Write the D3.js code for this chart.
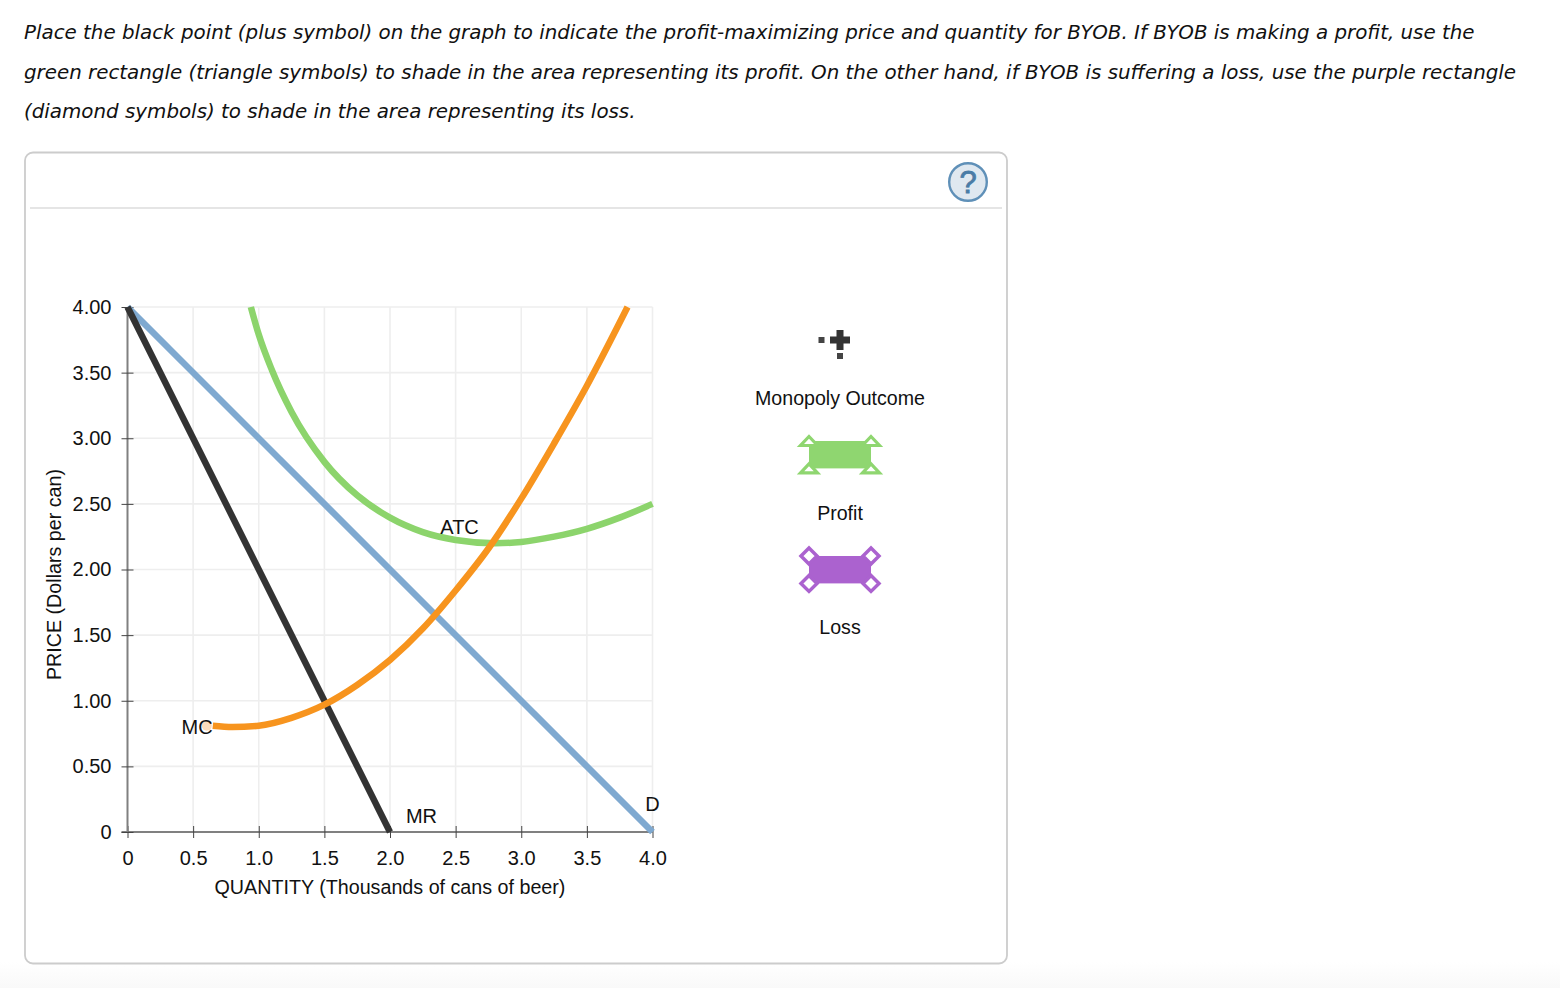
<!DOCTYPE html>
<html>
<head>
<meta charset="utf-8">
<script src="https://cdn.jsdelivr.net/npm/d3@7"></script>
<style>
  html, body { margin: 0; padding: 0; background: #fff; }
  svg { display: block; }
  text { font-family: "Liberation Sans", Arial, sans-serif; fill: #111; }
  .prompt { font-family: "DejaVu Sans", Verdana, sans-serif; font-style: italic; font-size: 19.85px; fill: #111; }
</style>
</head>
<body>
<div id="viz"></div>
<script>
// =====================
// data
// =====================
const promptLines = [
  "Place the black point (plus symbol) on the graph to indicate the profit-maximizing price and quantity for BYOB. If BYOB is making a profit, use the",
  "green rectangle (triangle symbols) to shade in the area representing its profit. On the other hand, if BYOB is suffering a loss, use the purple rectangle",
  "(diamond symbols) to shade in the area representing its loss."
];
const xTicks = [0, 0.5, 1.0, 1.5, 2.0, 2.5, 3.0, 3.5, 4.0];
const yTicks = [0, 0.5, 1.0, 1.5, 2.0, 2.5, 3.0, 3.5, 4.0];

const demand = [[0, 4], [4, 0]];
const mr = [[0, 4], [2, 0]];
const mc = [[0.65, 0.81], [0.8, 0.8], [1.0, 0.81], [1.25, 0.87], [1.5, 0.97], [1.75, 1.12], [2.0, 1.31],
  [2.25, 1.55], [2.5, 1.84], [2.75, 2.16], [3.0, 2.54], [3.25, 2.96], [3.5, 3.40], [3.81, 4.0]];
const atc = [[0.94, 4.0], [1.0, 3.79], [1.1, 3.52], [1.25, 3.20], [1.5, 2.82], [1.75, 2.565], [2.0, 2.395], [2.25, 2.285],
  [2.5, 2.225], [2.8, 2.2], [3.0, 2.21], [3.25, 2.25], [3.5, 2.31], [3.75, 2.395], [4.0, 2.5]];

const curveLabels = [
  {name: "ATC", q: 2.53, p: 2.325},
  {name: "MC", q: 0.53, p: 0.8},
  {name: "MR", q: 2.24, p: 0.12},
  {name: "D", q: 4.0, p: 0.21}
];
const legendNames = ["Monopoly Outcome", "Profit", "Loss"];

// =====================
// set up variables etc.
// =====================
const outerWidth = 1560, outerHeight = 988;
const plot = {left: 127.5, right: 652.5, top: 307, bottom: 832};

const svg = d3.select("#viz").append("svg")
    .attr("width", outerWidth)
    .attr("height", outerHeight);

const x = d3.scaleLinear().domain([0, 4]).range([plot.left, plot.right]);
const y = d3.scaleLinear().domain([0, 4]).range([plot.bottom, plot.top]);

// faint page fade along the bottom edge
const fade = svg.append("defs").append("linearGradient")
    .attr("id", "fade").attr("x1", 0).attr("x2", 0).attr("y1", 0).attr("y2", 1);
fade.append("stop").attr("offset", "0%").attr("stop-color", "#ffffff");
fade.append("stop").attr("offset", "100%").attr("stop-color", "#f9f9f9");
svg.append("rect")
    .attr("x", 0).attr("y", 962)
    .attr("width", outerWidth).attr("height", 26)
    .attr("fill", "url(#fade)");

// question text
svg.selectAll(".prompt")
  .data(promptLines)
  .join("text")
    .attr("class", "prompt")
    .attr("x", 24)
    .attr("y", (d, i) => 39 + i * 39.7)
    .text(d => d);

// panel round the graph
svg.append("rect")
    .attr("x", 25).attr("y", 152.5)
    .attr("width", 982).attr("height", 811)
    .attr("rx", 8)
    .attr("fill", "#fff").attr("stroke", "#ccc").attr("stroke-width", 1.8);

svg.append("line")
    .attr("x1", 30).attr("x2", 1002)
    .attr("y1", 208).attr("y2", 208)
    .attr("stroke", "#ddd").attr("stroke-width", 1.6);

// help button
const help = svg.append("g").attr("transform", "translate(968,182)");
help.append("circle").attr("r", 18.8)
    .attr("fill", "#dfe8f0").attr("stroke", "#5f90b8").attr("stroke-width", 2.4);
help.append("text")
    .attr("text-anchor", "middle").attr("y", 11)
    .style("font-size", "31px").style("fill", "#4a7ca6")
    .style("stroke", "#4a7ca6").style("stroke-width", 0.8)
    .text("?");

// grid
const grid = svg.append("g");
grid.selectAll(".gx").data(xTicks.slice(1))
  .join("line").attr("class", "gx")
    .attr("x1", d => x(d)).attr("x2", d => x(d))
    .attr("y1", plot.top).attr("y2", plot.bottom);
grid.selectAll(".gy").data(yTicks.slice(1))
  .join("line").attr("class", "gy")
    .attr("x1", plot.left).attr("x2", plot.right)
    .attr("y1", d => y(d)).attr("y2", d => y(d));
grid.selectAll("line").attr("stroke", "#eeeeee").attr("stroke-width", 1.6);

// axes
const xAxis = svg.append("g")
    .attr("transform", "translate(0," + plot.bottom + ")")
    .call(d3.axisBottom(x).tickValues(xTicks).tickSize(6)
      .tickFormat(d => d === 0 ? "0" : d3.format(".1f")(d)));
const yAxis = svg.append("g")
    .attr("transform", "translate(" + plot.left + ",0)")
    .call(d3.axisLeft(y).tickValues(yTicks).tickSize(6)
      .tickFormat(d => d === 0 ? "0" : d3.format(".2f")(d)));

xAxis.selectAll(".tick line").attr("y1", -6).attr("y2", 6).attr("stroke", "#444");
yAxis.selectAll(".tick line").attr("x1", -6).attr("x2", 6).attr("stroke", "#444");
xAxis.selectAll(".tick text").attr("y", 19).style("font-size", "20px").style("font-family", "Liberation Sans");
yAxis.selectAll(".tick text").attr("x", -16).style("font-size", "20px").style("font-family", "Liberation Sans");
svg.selectAll(".domain").attr("stroke", "#808080").attr("stroke-width", 2);
xAxis.select(".domain").attr("d", "M" + (plot.left - 6) + ",0H" + plot.right);
yAxis.select(".domain").attr("d", "M0," + plot.bottom + "V" + plot.top);

svg.append("text")
    .attr("x", x(2)).attr("y", 894)
    .attr("text-anchor", "middle")
    .style("font-size", "19.7px")
    .text("QUANTITY (Thousands of cans of beer)");

svg.append("text")
    .attr("transform", "translate(61,574.5) rotate(-90)")
    .attr("text-anchor", "middle")
    .style("font-size", "19.7px")
    .text("PRICE (Dollars per can)");

// curves
const line = d3.line().x(d => x(d[0])).y(d => y(d[1]));
const smooth = d3.line().x(d => x(d[0])).y(d => y(d[1])).curve(d3.curveMonotoneX);

svg.append("path").datum(atc).attr("d", smooth)
    .attr("fill", "none").attr("stroke", "#8cd46c").attr("stroke-width", 6.5);
svg.append("path").datum(demand).attr("d", line)
    .attr("fill", "none").attr("stroke", "#7fa9d0").attr("stroke-width", 6.5);
svg.append("path").datum(mr).attr("d", line)
    .attr("fill", "none").attr("stroke", "#333333").attr("stroke-width", 6.5);
svg.append("path").datum(mc).attr("d", smooth)
    .attr("fill", "none").attr("stroke", "#f7941e").attr("stroke-width", 6.5);

// pale spot where the MC line starts, under its label
svg.append("circle")
    .attr("cx", x(mc[0][0]) - 6).attr("cy", y(mc[0][1]))
    .attr("r", 5).attr("fill", "#fcdcbc");

svg.selectAll(".curve-label")
  .data(curveLabels)
  .join("text")
    .attr("class", "curve-label")
    .attr("x", d => x(d.q))
    .attr("y", d => y(d.p))
    .attr("text-anchor", "middle")
    .attr("dy", "0.35em")
    .style("font-size", "20px")
    .text(d => d.name);

// legend
const legendX = 840;
svg.selectAll(".legend-label")
  .data(legendNames)
  .join("text")
    .attr("class", "legend-label")
    .attr("x", legendX)
    .attr("y", (d, i) => 405 + i * 114.5)
    .attr("text-anchor", "middle")
    .style("font-size", "19.6px")
    .text(d => d);

// monopoly outcome plus symbol with its two small handles
const plus = svg.append("g").attr("transform", "translate(" + legendX + ",340)");
plus.append("path")
    .attr("d", "M-3.5,-10H3.5V-3.5H10V3.5H3.5V10H-3.5V3.5H-10V-3.5H-3.5Z")
    .attr("fill", "#333");
plus.append("rect").attr("x", -21.5).attr("y", -3).attr("width", 6).attr("height", 6).attr("fill", "#444");
plus.append("rect").attr("x", -3).attr("y", 13).attr("width", 6).attr("height", 6).attr("fill", "#444");

// shaded rectangle with a handle on each corner
function shadeIcon(cy, fill, handle, handleWidth) {
  const g = svg.append("g").attr("transform", "translate(" + legendX + "," + cy + ")");
  g.append("rect")
      .attr("x", -31).attr("y", -13.7).attr("width", 62).attr("height", 27.4)
      .attr("fill", fill);
  const corners = [[-31, -13.7], [31, -13.7], [-31, 13.7], [31, 13.7]];
  g.selectAll("path").data(corners).join("path")
      .attr("d", handle)
      .attr("transform", d => "translate(" + d[0] + "," + d[1] + ")")
      .attr("fill", "#fff").attr("stroke", fill).attr("stroke-width", handleWidth);
}
shadeIcon(454.7, "#8fd670", "M0,-4.5L8.5,4.5H-8.5Z", 3.2);
shadeIcon(569.7, "#ab62cf", "M0,-8L8,0L0,8L-8,0Z", 3.5);
</script>
</body>
</html>
